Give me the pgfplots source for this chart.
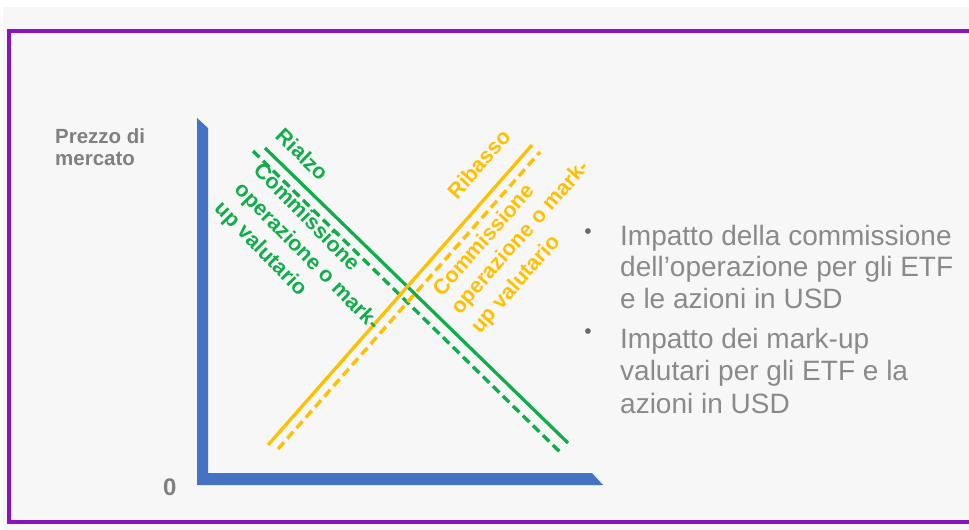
\documentclass[border=0pt]{standalone}
\usepackage{pgfplots}
\pgfplotsset{compat=1.18}
\usepackage{fontspec}
\setmainfont{Liberation Sans}

\definecolor{bgc}{HTML}{F7F7F7}
\definecolor{frame}{RGB}{140,18,190}
\definecolor{axblue}{HTML}{4472C4}
\definecolor{lgreen}{HTML}{12AD4B}
\definecolor{lorange}{HTML}{FFC000}
\definecolor{txtgray}{RGB}{128,128,128}
\definecolor{bulgray}{RGB}{138,138,138}
\definecolor{dotgray}{RGB}{105,105,105}

\begin{document}
\begin{tikzpicture}
\begin{axis}[
    scale only axis,
    width=969pt, height=530pt,
    xmin=0, xmax=969, ymin=0, ymax=530,
    y dir=reverse,
    hide axis,
    no markers,
    clip=true
]
% page background
\addplot[fill=white, draw=none] coordinates {(0,0) (969,0) (969,530) (0,530)} -- cycle;
\addplot[fill=bgc, draw=none] coordinates {(3,7) (969,7) (969,530) (3,530)} -- cycle;
% purple frame (open on the right, runs past the edge)
\addplot[draw=frame, line width=4pt, line join=miter] coordinates {(980,31) (9,31) (9,522) (980,522)};

% blue L-shaped axes with bevelled ends
\addplot[fill=axblue, draw=none] coordinates {
    (197,118) (208,128) (208,473) (592,473) (603,485) (197,485)
} -- cycle;

% green lines (Rialzo)
\addplot[lgreen, line width=3.3pt] coordinates {(265,148) (568,443)};
\addplot[lgreen, line width=3.4pt, dash pattern=on 9pt off 5pt] coordinates {(253,151) (562,454)};

% orange lines (Ribasso)
\addplot[lorange, line width=3.3pt] coordinates {(268,445) (532,145)};
\addplot[lorange, line width=3.4pt, dash pattern=on 9pt off 5pt] coordinates {(278,449) (540,152)};

% rotated green labels
\node[rotate=-44, anchor=west, inner sep=0pt, text=lgreen, font=\bfseries\fontsize{21.5}{26}\selectfont] at (axis cs:278,134) {\strut Rialzo};
\node[rotate=-45.5, anchor=west, inner sep=0pt, text=lgreen, font=\bfseries\fontsize{21.5}{26}\selectfont] at (axis cs:256,168) {\strut Commissione};
\node[rotate=-45.5, anchor=west, inner sep=0pt, text=lgreen, font=\bfseries\fontsize{21.5}{26}\selectfont] at (axis cs:237,187) {\strut operazione o mark-};
\node[rotate=-45.5, anchor=west, inner sep=0pt, text=lgreen, font=\bfseries\fontsize{21.5}{26}\selectfont] at (axis cs:217,206) {\strut up valutario};

% rotated orange labels
\node[rotate=48.5, anchor=west, inner sep=0pt, text=lorange, font=\bfseries\fontsize{21.5}{26}\selectfont] at (axis cs:453,197) {\strut Ribasso};
\node[rotate=48.5, anchor=west, inner sep=0pt, text=lorange, font=\bfseries\fontsize{21.5}{26}\selectfont] at (axis cs:438,294) {\strut Commissione};
\node[rotate=48.5, anchor=west, inner sep=0pt, text=lorange, font=\bfseries\fontsize{21.5}{26}\selectfont] at (axis cs:456,312) {\strut operazione o mark-};
\node[rotate=48.5, anchor=west, inner sep=0pt, text=lorange, font=\bfseries\fontsize{21.5}{26}\selectfont] at (axis cs:476,331) {\strut up valutario};

% axis texts
\node[anchor=base west, inner sep=0pt, text=txtgray, font=\bfseries\fontsize{20.5}{22}\selectfont] at (axis cs:55,143) {Prezzo di};
\node[anchor=base west, inner sep=0pt, text=txtgray, font=\bfseries\fontsize{20.5}{22}\selectfont] at (axis cs:55,165) {mercato};
\node[anchor=base west, inner sep=0pt, text=txtgray, font=\bfseries\fontsize{24}{26}\selectfont] at (axis cs:163,495) {0};

% bullet list on the right
\node[anchor=center, inner sep=0pt, text=dotgray, font=\fontsize{21}{21}\selectfont] at (axis cs:588,234) {•};
\node[anchor=center, inner sep=0pt, text=dotgray, font=\fontsize{21}{21}\selectfont] at (axis cs:588,334) {•};
\node[anchor=base west, inner sep=0pt, text=bulgray, font=\fontsize{28}{33}\selectfont] at (axis cs:620,245) {Impatto della commissione};
\node[anchor=base west, inner sep=0pt, text=bulgray, font=\fontsize{28}{33}\selectfont] at (axis cs:620,276) {dell’operazione per gli ETF};
\node[anchor=base west, inner sep=0pt, text=bulgray, font=\fontsize{28}{33}\selectfont] at (axis cs:620,308) {e le azioni in USD};
\node[anchor=base west, inner sep=0pt, text=bulgray, font=\fontsize{28}{33}\selectfont] at (axis cs:620,348) {Impatto dei mark-up};
\node[anchor=base west, inner sep=0pt, text=bulgray, font=\fontsize{28}{33}\selectfont] at (axis cs:620,380) {valutari per gli ETF e la};
\node[anchor=base west, inner sep=0pt, text=bulgray, font=\fontsize{28}{33}\selectfont] at (axis cs:620,413) {azioni in USD};
\end{axis}
\end{tikzpicture}
\end{document}
